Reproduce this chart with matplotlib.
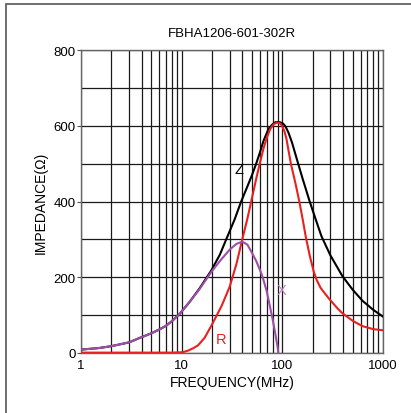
import matplotlib
matplotlib.use("Agg")
import matplotlib.pyplot as plt
from matplotlib.patches import Rectangle
import numpy as np

title = "FBHA1206-601-302R"

z_freq = [1, 1.5, 2, 3, 3.84, 5, 6, 7, 8, 9.6, 12, 15, 19.7, 24, 27.7, 33.5, 39, 45, 50, 55, 60, 65, 73, 80, 85, 90, 95, 100, 104, 108, 115, 125, 140, 160, 187, 215, 245, 300, 395, 500, 625, 800, 1000]
z_val = [9, 13, 18, 28, 40, 52, 62, 72, 84, 104, 135, 170, 218, 260, 300, 352, 400, 440, 470, 500, 530, 560, 592, 604, 609, 610, 609, 607, 603, 597, 582, 555, 510, 458, 400, 352, 308, 258, 203, 167, 138, 114, 96]

r_freq = [1, 3, 5, 8, 10, 10.5, 11.5, 12.9, 14.5, 16.9, 20, 25, 30, 35, 40, 45, 50, 55, 60, 65, 70, 76, 82, 88, 92, 96, 100, 105, 110, 116, 122, 135, 148, 160, 172, 188, 205, 220, 240, 265, 292, 350, 395, 500, 624, 800, 1000]
r_val = [1, 1, 1, 1, 2, 3, 6, 12, 20, 40, 75, 125, 175, 235, 300, 355, 410, 460, 503, 540, 568, 592, 604, 608, 608, 605, 598, 585, 565, 530, 498, 448, 398, 350, 303, 255, 215, 192, 172, 157, 143, 119, 105, 85, 71, 63, 60]

x_freq = [1, 1.5, 2, 3, 3.84, 5, 6, 7, 8, 9.6, 12, 15, 19.7, 24, 30, 35, 40, 45, 50, 55, 60, 63.8, 70, 75, 78.5, 80, 85, 90, 91]
x_val = [9, 13, 18, 28, 40, 52, 62, 72, 84, 104, 135, 168, 214, 243, 273, 288, 294, 286, 264, 243, 219, 200, 163, 125, 100, 90, 52, 14, 2]

xticks = [1, 10, 100, 1000]
xticklabels = ["1", "10", "100", "1000"]
yticks = [0, 200, 400, 600, 800]
yticklabels = ["0", "200", "400", "600", "800"]

plt.rcParams['font.family'] = ['Liberation Sans', 'DejaVu Sans']

fig = plt.figure(figsize=(4.11, 4.14), dpi=100)
fig.patches.append(Rectangle((6/411, -0.1), 1.2, 1 - 5/414 + 0.1, transform=fig.transFigure,
                             fill=False, edgecolor='#555555', linewidth=1.2))
ax = fig.add_axes([81/411, 1 - 354/414, (383 - 81)/411, (354 - 51)/414])

ax.set_xscale('log')
ax.set_xlim(1, 1000)
ax.set_ylim(0, 800)

# grid
ax.set_yticks(np.arange(0, 801, 100), minor=True)
ax.grid(True, which='major', axis='both', color='#1a1a1a', linewidth=0.9)
ax.grid(True, which='minor', axis='both', color='#1a1a1a', linewidth=0.9)

ax.plot(z_freq, z_val, color='black', linewidth=1.5, zorder=3)
ax.plot(r_freq, r_val, color='#e8201f', linewidth=1.5, zorder=4)
ax.plot(x_freq, x_val, color='#9c4fa6', linewidth=1.5, zorder=5)

ax.text(37, 485, "Z", color='black', fontsize=10.5, ha='center', va='center')
ax.text(24.7, 38, "R", color='#e8201f', fontsize=10.5, ha='center', va='center')
ax.text(99, 167, "X", color='#c27fc8', fontsize=10.5, ha='center', va='center')

ax.set_xticks(xticks)
ax.set_xticklabels(xticklabels)
ax.set_yticks(yticks)
ax.set_yticklabels(yticklabels)
ax.tick_params(axis='x', which='both', length=0, labelsize=9.5, pad=4)
ax.tick_params(axis='y', which='major', length=3, labelsize=9.5, pad=1, color='#555555')
ax.tick_params(axis='y', which='minor', length=0)

for s in ax.spines.values():
    s.set_color('#666666')
    s.set_linewidth(1.0)

ax.set_title(title, fontsize=9.5, pad=10)
ax.set_xlabel("FREQUENCY(MHz)", fontsize=10, labelpad=3)
ax.set_ylabel("IMPEDANCE(Ω)", fontsize=10, labelpad=4)

fig.savefig("out.png", dpi=100)
